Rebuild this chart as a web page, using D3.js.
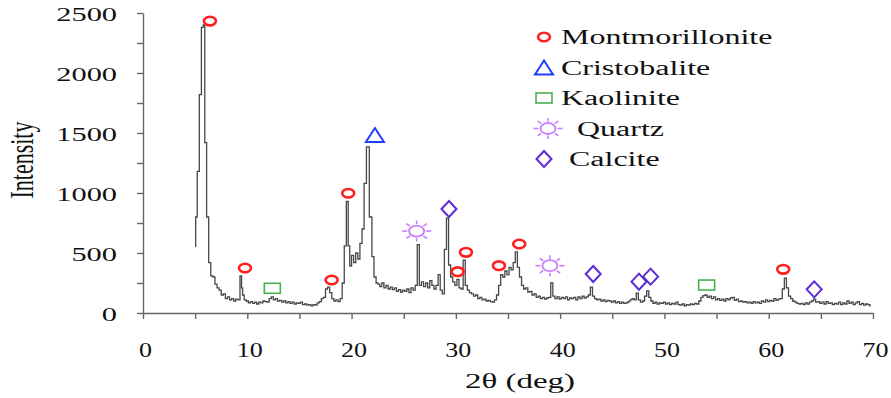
<!DOCTYPE html>
<html lang="en">
  <head>
    <meta charset="UTF-8" />
    <title>XRD pattern</title>
    <script src="https://d3js.org/d3.v7.min.js"></script>
    <style>
      body { margin: 0; background: #fff; }
      text { font-family: "Liberation Serif", "DejaVu Serif", serif; fill: #111; }
    </style>
  </head>
  <body>
    <svg width="891" height="398"></svg>

    <script>
      // 2θ positions and measured intensity
      const twoTheta = [
        5.0, 5.1, 5.3, 5.5, 5.7, 5.85, 6.0, 6.2, 6.4, 6.6, 6.8, 7.0, 7.2, 7.4, 7.6, 7.8, 8.0, 8.2, 8.4, 8.6, 8.8, 9.0, 9.2, 9.4, 9.5, 9.6, 9.8,
        10.0, 10.2, 10.4, 10.6, 10.8, 11.0, 11.2, 11.4, 11.6, 11.8, 12.0, 12.2, 12.4, 12.6, 12.8, 13.0, 13.2, 13.4, 13.6, 13.8,
        14.0, 14.2, 14.4, 14.6, 14.8, 15.0, 15.2, 15.4, 15.6, 15.8, 16.0, 16.2, 16.4, 16.6, 16.8, 17.0, 17.2, 17.4, 17.6, 17.8,
        18.0, 18.2, 18.4, 18.6, 18.8, 19.0, 19.2, 19.4, 19.6, 19.75, 19.9, 20.1, 20.3, 20.5, 20.7, 20.9, 21.1, 21.3, 21.55, 21.85,
        22.05, 22.25, 22.45, 22.6, 22.8, 23.0, 23.2, 23.4, 23.6, 23.8, 24.0, 24.2, 24.4, 24.6, 24.8, 25.0, 25.2, 25.4, 25.6, 25.8,
        26.0, 26.2, 26.4, 26.6, 26.8, 27.0, 27.2, 27.4, 27.6, 27.8, 28.0, 28.2, 28.4, 28.6, 28.8, 29.0, 29.2, 29.4, 29.6, 29.8,
        30.0, 30.2, 30.4, 30.6, 30.8, 31.0, 31.2, 31.4, 31.6, 31.8, 32.0, 32.2, 32.4, 32.6, 32.8, 33.0, 33.2, 33.4, 33.6, 33.8,
        34.0, 34.2, 34.4, 34.6, 34.8, 35.0, 35.2, 35.4, 35.6, 35.8, 36.0, 36.2, 36.4, 36.6, 36.8, 37.0, 37.2, 37.4, 37.6, 37.8,
        38.0, 38.2, 38.4, 38.6, 38.8, 39.0, 39.2, 39.4, 39.6, 39.8, 40.0, 40.2, 40.4, 40.6, 40.8, 41.0, 41.2, 41.4, 41.6, 41.8,
        42.0, 42.2, 42.4, 42.6, 42.8, 43.0, 43.2, 43.4, 43.6, 43.8, 44.0, 44.2, 44.4, 44.6, 44.8, 45.0, 45.2, 45.4, 45.6, 45.8,
        46.0, 46.2, 46.4, 46.6, 46.8, 47.0, 47.2, 47.4, 47.6, 47.8, 48.0, 48.2, 48.4, 48.6, 48.8, 49.0, 49.2, 49.4, 49.6, 49.8,
        50.0, 50.2, 50.4, 50.6, 50.8, 51.0, 51.2, 51.4, 51.6, 51.8, 52.0, 52.2, 52.4, 52.6, 52.8, 53.0, 53.2, 53.4, 53.6, 53.8,
        54.0, 54.2, 54.4, 54.6, 54.8, 55.0, 55.2, 55.4, 55.6, 55.8, 56.0, 56.2, 56.4, 56.6, 56.8, 57.0, 57.2, 57.4, 57.6, 57.8,
        58.0, 58.2, 58.4, 58.6, 58.8, 59.0, 59.2, 59.4, 59.6, 59.8, 60.0, 60.2, 60.4, 60.6, 60.8, 61.0, 61.2, 61.4, 61.6, 61.8,
        62.0, 62.2, 62.4, 62.6, 62.8, 63.0, 63.2, 63.4, 63.6, 63.8, 64.0, 64.2, 64.4, 64.6, 64.8, 65.0, 65.2, 65.4, 65.6, 65.8,
        66.0, 66.2, 66.4, 66.6, 66.8, 67.0, 67.2, 67.4, 67.6, 67.8, 68.0, 68.2, 68.4, 68.6, 68.8, 69.0, 69.2, 69.4, 69.6, 69.8
      ];
      const intensity = [
        555, 800, 1180, 1820, 2380, 2400, 1420, 800, 420, 310, 300, 240, 210, 190, 150, 160, 120, 135, 110, 120, 100, 115, 110, 310, 210, 150, 110,
        100, 85, 95, 80, 90, 75, 90, 85, 100, 95, 90, 120, 135, 110, 120, 100, 105, 90, 100, 85,
        95, 80, 90, 75, 85, 80, 90, 70, 75, 65, 70, 60, 70, 65, 85, 95, 120, 130, 200, 215,
        170, 120, 100, 110, 95, 120, 250, 560, 930, 560, 390, 480, 420, 500, 450, 580, 700, 1080, 1385, 800,
        470, 300, 250, 240, 220, 250, 210, 230, 200, 215, 195, 210, 180, 195, 175, 190, 180, 200, 170, 210,
        190, 230, 570, 230, 260, 220, 250, 210, 270, 230, 200, 230, 320, 190, 160, 530, 790, 400, 300, 260,
        230, 280, 210, 200, 440, 230, 190, 170, 160, 140, 150, 120, 130, 110, 115, 100, 105, 95, 90, 110,
        150, 230, 320, 300, 350, 320, 380, 360, 420, 510, 380, 300, 230, 200, 210, 175, 180, 150, 160, 130,
        140, 120, 130, 115, 125, 130, 250, 140, 120, 135, 115, 130, 120, 135, 110, 125, 120, 130, 110, 135,
        120, 140, 125, 135, 150, 215, 140, 120, 110, 115, 100, 110, 95, 105, 100, 90, 100, 85, 95, 80,
        90, 80, 85, 95, 110, 120, 110, 165, 110, 90, 100, 140, 185, 130, 100, 80, 90, 75, 85, 80,
        90, 75, 85, 70, 80, 75, 90, 70, 65, 75, 60, 70, 65, 75, 70, 80, 75, 100, 130, 145,
        150, 130, 140, 120, 135, 110, 120, 105, 115, 100, 120, 110, 125, 130, 105, 115, 95, 100, 90, 95,
        85, 90, 80, 95, 85, 90, 80, 100, 90, 110, 95, 105, 100, 120, 105, 115, 120, 200, 290, 210,
        140, 120, 100, 90, 80, 75, 80, 70, 85, 75, 90, 100, 115, 90, 95, 80, 90, 75, 95, 80,
        85, 70, 80, 75, 90, 70, 85, 75, 100, 80, 90, 70, 85, 95, 70, 80, 65, 75, 70, 60
      ];

      // phase markers: [2θ, intensity] where each symbol sits
      const montmorillonite = [[6.42, 2433], [9.78, 375], [18.09, 275], [19.68, 998], [30.17, 344], [30.97, 506], [34.13, 394], [36.08, 575], [61.39, 364]];
      const cristobalite = [[22.24, 1483]];
      const kaolinite = [[12.4, 206], [54.05, 233]];
      const quartz = [[26.24, 683], [39.02, 394]];
      const calcite = [[29.34, 867], [43.17, 325], [47.56, 261], [48.67, 303], [64.36, 197]];

      const legendLabels = ["Montmorillonite", "Cristobalite", "Kaolinite", "  Quartz", " Calcite"];
      const legendTypes = ["circle", "triangle", "square", "sun", "diamond"];
      const xTicks = [0, 10, 20, 30, 40, 50, 60, 70];
      const yTicks = [0, 500, 1000, 1500, 2000, 2500];

      const svg = d3.select("svg");
      const stretch = 1.6; // text in the figure is widened horizontally

      const x = d3.scaleLinear().domain([0, 70]).range([143, 873]);
      const y = d3.scaleLinear().domain([0, 2500]).range([313, 13]);

      // axes
      const xAxis = svg
        .append("g")
        .attr("transform", `translate(0, ${y(0)})`)
        .call(
          d3.axisBottom(x)
            .tickValues(d3.range(0, 71, 5))
            .tickSize(6)
            .tickSizeOuter(0)
            .tickFormat((d) => (xTicks.includes(d) ? d : ""))
        );
      xAxis.selectAll("text")
        .attr("y", 0)
        .attr("dy", 0)
        .attr("transform", `translate(2, 44) scale(${1.3}, 1)`)
        .style("font-size", "20px");

      const yAxis = svg
        .append("g")
        .attr("transform", `translate(${x(0)}, 0)`)
        .call(
          d3.axisLeft(y)
            .tickValues(d3.range(0, 2501, 250))
            .tickSize(6)
            .tickSizeOuter(0)
            .tickFormat((d) => (yTicks.includes(d) ? d : ""))
        );
      yAxis.selectAll("text")
        .attr("x", 0)
        .attr("dy", "0.4em")
        .attr("transform", `translate(-26, 0) scale(${stretch}, 1)`)
        .style("font-size", "19px");

      svg.selectAll(".domain, .tick line")
        .attr("stroke", "#666")
        .attr("stroke-width", 1.4);

      // axis titles
      svg.append("text")
        .attr("transform", `translate(520, 388) scale(1.5, 1)`)
        .attr("text-anchor", "middle")
        .style("font-size", "22px")
        .text("2θ (deg)");

      svg.append("text")
        .attr("transform", `translate(33, 160) scale(1.5, 1) rotate(-90)`)
        .attr("text-anchor", "middle")
        .style("font-size", "22px")
        .text("Intensity");

      // pattern
      const line = d3
        .line()
        .x((d, i) => x(twoTheta[i]))
        .y((d) => y(d))
        .curve(d3.curveStep);

      svg.append("path")
        .datum(intensity)
        .attr("d", line)
        .attr("fill", "none")
        .attr("stroke", "#474747")
        .attr("stroke-width", 1.3);

      // marker shapes
      function drawMarker(g, type, cx, cy) {
        const m = g.append("g").attr("transform", `translate(${cx}, ${cy})`);
        if (type === "circle") {
          m.append("ellipse")
            .attr("rx", 6).attr("ry", 4.3)
            .attr("fill", "none").attr("stroke", "#ff1f1f").attr("stroke-width", 2.6);
        } else if (type === "triangle") {
          m.append("path")
            .attr("d", "M-9,7L9,7L0,-7Z")
            .attr("fill", "none").attr("stroke", "#1f3dff").attr("stroke-width", 2);
        } else if (type === "square") {
          m.append("rect")
            .attr("x", -8).attr("y", -5).attr("width", 16).attr("height", 10)
            .attr("fill", "none").attr("stroke", "#4caf50").attr("stroke-width", 1.6);
        } else if (type === "sun") {
          m.append("ellipse")
            .attr("rx", 7.5).attr("ry", 5.5)
            .attr("fill", "none").attr("stroke", "#c77dff").attr("stroke-width", 1.8);
          d3.range(8).forEach((k) => {
            const a = (k * Math.PI) / 4;
            m.append("line")
              .attr("x1", Math.cos(a) * 9.5).attr("y1", Math.sin(a) * 7)
              .attr("x2", Math.cos(a) * 14.5).attr("y2", Math.sin(a) * 10.5)
              .attr("stroke", "#c77dff").attr("stroke-width", 1.6);
          });
        } else if (type === "diamond") {
          m.append("path")
            .attr("d", "M0,-8L7.5,0L0,8L-7.5,0Z")
            .attr("fill", "none").attr("stroke", "#5b2bd6").attr("stroke-width", 2);
        }
      }

      const markers = svg.append("g");
      [
        [montmorillonite, "circle"],
        [cristobalite, "triangle"],
        [kaolinite, "square"],
        [quartz, "sun"],
        [calcite, "diamond"],
      ].forEach(([pts, type]) => {
        pts.forEach((p) => drawMarker(markers, type, x(p[0]), y(p[1])));
      });

      // legend
      const legend = svg.append("g").attr("transform", "translate(544, 37)");
      legendLabels.forEach((label, i) => {
        const row = legend.append("g").attr("transform", `translate(0, ${i * 30.5})`);
        drawMarker(row, legendTypes[i], legendTypes[i] === "sun" ? 4 : 0, 0);
        row.append("text")
          .attr("transform", `translate(17, 7) scale(${stretch}, 1)`)
          .style("font-size", "20px")
          .style("white-space", "pre")
          .text(label);
      });
    </script>
  </body>
</html>
